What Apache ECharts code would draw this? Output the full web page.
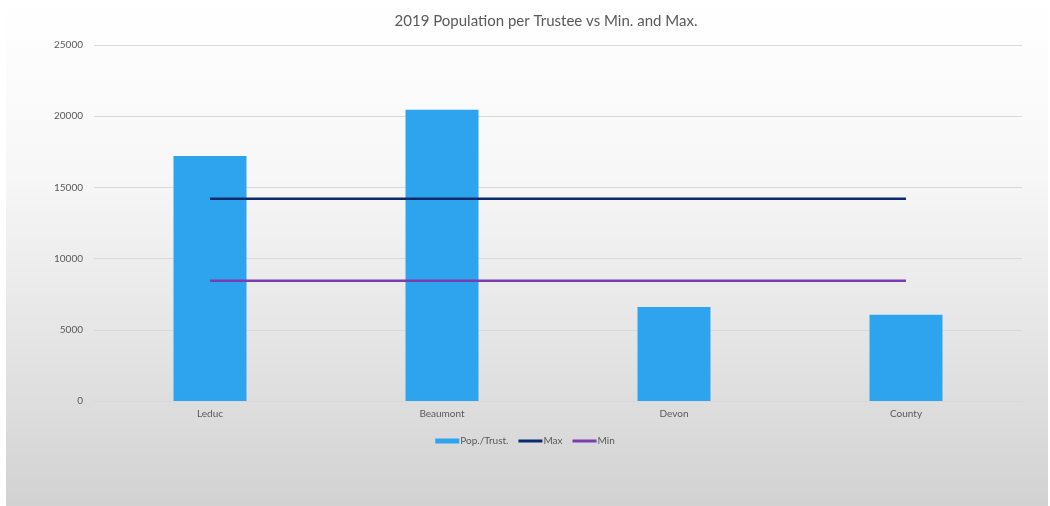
<!DOCTYPE html>
<html><head><meta charset="utf-8">
<script src="https://cdn.jsdelivr.net/npm/echarts@6/dist/echarts.min.js"></script>
<style>html,body{margin:0;padding:0;background:#fff}#c{width:1050px;height:506px}</style>
</head><body><div id="c"></div>
<script>
const categories = ['Leduc', 'Beaumont', 'Devon', 'County'];
const popPerTrustee = [17200, 20450, 6600, 6050];
const maxValues = [14200, 14200, 14200, 14200];
const minValues = [8450, 8450, 8450, 8450];
const yTicks = { min: 0, max: 25000, interval: 5000 };

const chart = echarts.init(document.getElementById('c'));
const font = 'Lato, "DejaVu Sans", sans-serif';
chart.setOption({
  animation: false,
  backgroundColor: '#ffffff',
  graphic: [{
    type: 'rect', z: -10, silent: true,
    shape: { x: 6, y: 0, width: 1042, height: 506 },
    style: { fill: new echarts.graphic.LinearGradient(0, 0, 0, 1, [
      { offset: 0, color: '#ffffff' },
      { offset: 0.35, color: '#f7f7f7' },
      { offset: 1, color: '#d2d2d2' }
    ]) }
  }],
  title: {
    text: '2019 Population per Trustee vs Min. and Max.',
    left: 541, top: 9, textAlign: 'center',
    textStyle: { fontFamily: font, fontSize: 15, fontWeight: 'normal', color: '#595959' }
  },
  legend: {
    data: [
      { name: 'Pop./Trust.', icon: 'rect' },
      { name: 'Max', icon: 'path://M0,0 L24,0 L24,3 L0,3 Z' },
      { name: 'Min', icon: 'path://M0,0 L24,0 L24,3 L0,3 Z' }
    ],
    left: 'center', top: 431,
    itemWidth: 24, itemHeight: 5, itemGap: 10,
    textStyle: { fontFamily: font, fontSize: 10, color: '#595959', padding: [0, 0, 0, -4] }
  },
  grid: { left: 94, right: 28, top: 45, bottom: 105 },
  xAxis: {
    type: 'category', data: categories,
    axisLine: { lineStyle: { color: '#d9d9d9', width: 1 } },
    axisTick: { show: false },
    axisLabel: { fontFamily: font, fontSize: 10, color: '#595959', margin: 8 }
  },
  yAxis: {
    type: 'value', min: yTicks.min, max: yTicks.max, interval: yTicks.interval,
    axisLine: { show: false }, axisTick: { show: false },
    splitLine: { lineStyle: { color: '#d9d9d9', width: 1 } },
    axisLabel: { fontFamily: font, fontSize: 10, color: '#595959', margin: 11,
      formatter: v => String(v) }
  },
  series: [
    { name: 'Pop./Trust.', type: 'bar', data: popPerTrustee, barWidth: 73,
      itemStyle: { color: '#2ea3ee' } },
    { name: 'Max', type: 'line', data: maxValues, symbol: 'none',
      lineStyle: { color: '#0b2a6b', width: 2.5 }, itemStyle: { color: '#0b2a6b' } },
    { name: 'Min', type: 'line', data: minValues, symbol: 'none',
      lineStyle: { color: '#7a3db0', width: 2.5 }, itemStyle: { color: '#7a3db0' } }
  ]
});
</script></body></html>
